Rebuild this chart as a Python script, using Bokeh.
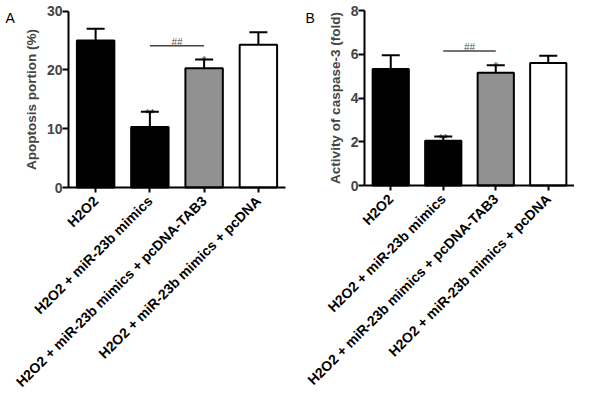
import numpy as np
from bokeh.plotting import figure
from bokeh.models import (ColumnDataSource, Range1d, FixedTicker, Whisker, TeeHead,
                          Label, CanvasTexture, CDSView, IndexFilter)
from bokeh.layouts import row
from bokeh.embed import file_html
from bokeh.resources import INLINE
from bokeh.core.properties import value

# ---------------- data ----------------
categories = [
    "H2O2",
    "H2O2 + miR-23b mimics",
    "H2O2 + miR-23b mimics + pcDNA-TAB3",
    "H2O2 + miR-23b mimics + pcDNA",
]
apoptosis_mean = [25.0, 10.3, 20.3, 24.3]
apoptosis_err = [2.0, 2.6, 1.5, 2.1]
caspase_mean = [5.33, 2.05, 5.15, 5.6]
caspase_err = [0.62, 0.19, 0.35, 0.33]
star_marks = ["", "**", "*", ""]
compare_pair = [1, 2]
compare_mark = "##"
apoptosis_bracket = 24.1
caspase_bracket = 6.15
apoptosis_ticks = [0, 10, 20, 30]
caspase_ticks = [0, 2, 4, 6, 8]

# ---------------- styles ----------------
FONT = "Liberation Sans"
bar_fill = ["black", "black", "white", "white"]
bar_hatch = [None, "dots", "checker", None]
hatch_color = {"dots": "white", "checker": "black"}
hatch_scale = {"dots": 12, "checker": 6}

textures = {
    "checker": CanvasTexture(code="""
        ctx.fillStyle = color;
        const h = scale / 2;
        ctx.fillRect(0, 0, h, h);
        ctx.fillRect(h, h, h, h);
    """),
    "dots": CanvasTexture(code="""
        ctx.fillStyle = color;
        for (let x = 0; x < scale; x += 3) {
          for (let y = 1; y < scale; y += 4) {
            ctx.fillRect(x, y, 2, 1);
          }
        }
    """),
}

FIG_H = 392


def make_panel(letter, ylabel, means, errs, ticks, bracket, width, frame_left,
               frame_right, axis_y_px, top_tick_px, letter_px):
    n = len(categories)
    idx = list(range(n))
    c0, c1 = -0.5, n - 0.5                      # category span
    per_px = (c1 - c0) / (frame_right - frame_left)
    x_start = c0 - frame_left * per_px          # plot area spans the whole figure
    x_end = c1 + (width - frame_right) * per_px
    per_py = (ticks[-1] - ticks[0]) / (axis_y_px - top_tick_px)
    y_end = ticks[-1] + top_tick_px * per_py
    y_start = ticks[0] - (FIG_H - axis_y_px) * per_py
    p = figure(width=width, height=FIG_H, output_backend="svg", toolbar_location=None,
               x_range=Range1d(x_start, x_end), y_range=Range1d(y_start, y_end),
               min_border_left=0, min_border_right=0,
               min_border_top=0, min_border_bottom=0)
    p.outline_line_color = None
    p.xgrid.visible = False
    p.ygrid.visible = False
    p.background_fill_color = "white"
    p.border_fill_color = "white"

    upper = [m + e for m, e in zip(means, errs)]
    src = ColumnDataSource(dict(x=idx, top=means, upper=upper, marks=star_marks))

    for i in idx:
        kw = {}
        hp = bar_hatch[i]
        if hp:
            kw = dict(hatch_pattern=value(hp), hatch_extra=textures,
                      hatch_color=hatch_color[hp], hatch_scale=hatch_scale[hp])
        p.vbar(x="x", top="top", bottom=ticks[0], width=0.69, source=src,
               view=CDSView(filter=IndexFilter([i])),
               fill_color=bar_fill[i], line_color="black", line_width=2, **kw)

    p.add_layout(Whisker(source=src, base="x", lower="top", upper="upper",
                         dimension="height", line_width=2, line_color="black",
                         upper_head=TeeHead(size=18, line_width=2, line_color="black"),
                         lower_head=None, level="glyph"))

    marked = [i for i, m in enumerate(star_marks) if m]
    p.text(x="x", y="upper", text="marks", source=src,
           view=CDSView(filter=IndexFilter(marked)), text_align="center",
           text_baseline="alphabetic", y_offset=2, text_font=value(FONT),
           text_font_size="12px", text_color="#222222")

    a, b = compare_pair
    bsrc = ColumnDataSource(dict(x0=[idx[a]], x1=[idx[b]], y=[bracket],
                                 xm=[(idx[a] + idx[b]) / 2], t=[compare_mark]))
    p.segment(x0="x0", y0="y", x1="x1", y1="y", source=bsrc,
              line_color="#444444", line_width=1.5)
    p.text(x="xm", y="y", text="t", source=bsrc, text_align="center",
           text_baseline="alphabetic", y_offset=-3, text_font=value(FONT),
           text_font_size="10px", text_color="#555555")

    xa = p.xaxis[0]
    xa.fixed_location = ticks[0]
    xa.ticker = FixedTicker(ticks=idx)
    xa.bounds = (c0, c1)
    xa.major_label_overrides = {i: c for i, c in zip(idx, categories)}
    xa.major_label_orientation = np.pi / 4
    xa.major_label_text_font = FONT
    xa.major_label_text_font_style = "bold"
    xa.major_label_text_font_size = "14px"
    xa.major_label_text_color = "black"
    xa.major_label_standoff = 6
    xa.axis_line_width = 2
    xa.major_tick_line_width = 2
    xa.major_tick_out = 5
    xa.major_tick_in = 0
    xa.minor_tick_out = 0

    ya = p.yaxis[0]
    ya.fixed_location = c0
    ya.ticker = FixedTicker(ticks=ticks)
    ya.bounds = (ticks[0], ticks[-1])
    ya.axis_label = ylabel
    ya.axis_label_text_font = FONT
    ya.axis_label_text_font_style = "bold"
    ya.axis_label_text_font_size = "13.5px"
    ya.axis_label_standoff = 5
    ya.major_label_text_font = FONT
    ya.major_label_text_font_style = "bold"
    ya.major_label_text_font_size = "14px"
    ya.major_label_standoff = 0
    ya.axis_line_width = 2
    ya.major_tick_line_width = 2
    ya.major_tick_out = 6
    ya.major_tick_in = 0
    ya.minor_tick_out = 0

    # panel letter, placed in data units converted from its pixel position
    lx, ly = letter_px
    p.add_layout(Label(x=x_start + lx * per_px, y=y_end - ly * per_py, text=letter,
                       text_font=FONT, text_font_size="14px", text_color="black",
                       text_baseline="alphabetic"))
    return p


pA = make_panel("A", "Apoptosis portion (%)", apoptosis_mean, apoptosis_err,
                apoptosis_ticks, apoptosis_bracket, width=290, frame_left=68,
                frame_right=285, axis_y_px=187, top_tick_px=10.7, letter_px=(5, 17))
pB = make_panel("B", "Activity of caspase-3 (fold)", caspase_mean, caspase_err,
                caspase_ticks, caspase_bracket, width=284, frame_left=74,
                frame_right=284, axis_y_px=185, top_tick_px=10, letter_px=(15, 17))

layout = row(pA, pB)
open("out.html", "w").write(file_html(layout, INLINE))
